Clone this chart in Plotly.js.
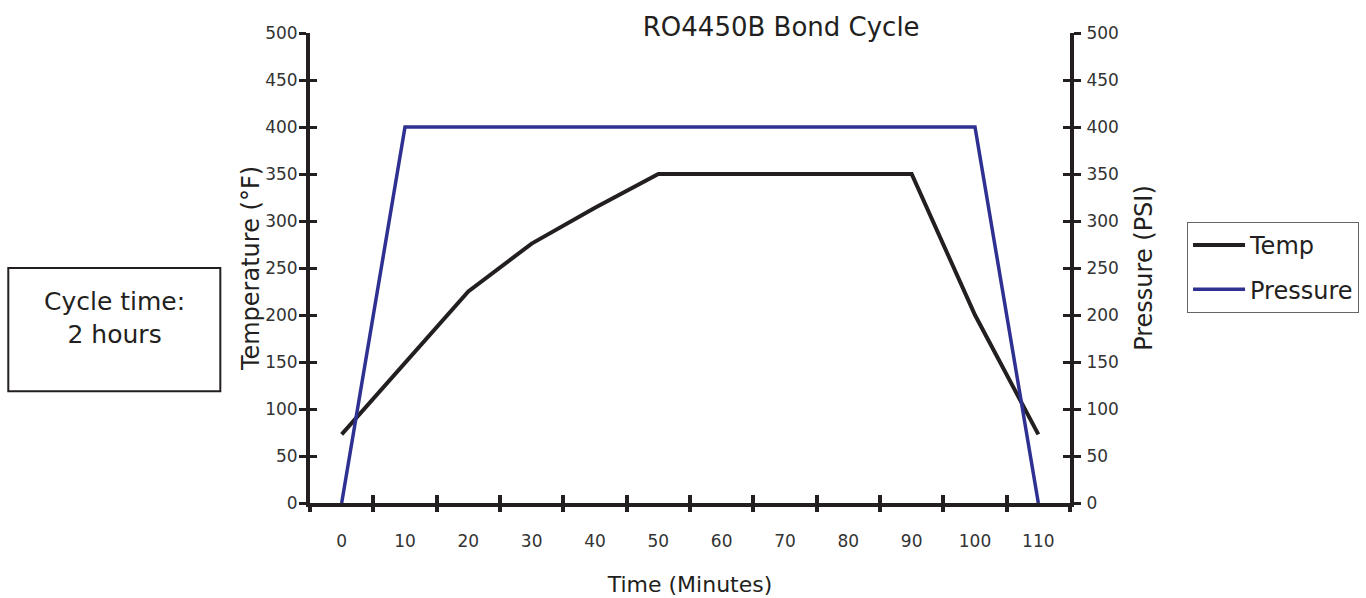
<!DOCTYPE html>
<html>
<head>
<meta charset="utf-8">
<script src="https://cdn.plot.ly/plotly-3.0.1.min.js"></script>
<style>html,body{margin:0;padding:0;background:#fff;}#chart{width:1366px;height:598px;}</style>
</head>
<body>
<div id="chart"></div>
<script>
const timeTemp = [0, 20, 30, 40, 50, 90, 100, 110];
const tempValues = [73, 225, 276, 314, 350, 350, 200, 73];
const timePressure = [0, 10, 100, 110];
const pressureValues = [0, 400, 400, 0];
const xLabelVals = [0, 10, 20, 30, 40, 50, 60, 70, 80, 90, 100, 110];
const xTickMarks = [-5, 5, 15, 25, 35, 45, 55, 65, 75, 85, 95, 105, 115];
const yTickVals = [0, 50, 100, 150, 200, 250, 300, 350, 400, 450, 500];

const FONT = 'DejaVu Sans, sans-serif';
const INK = '#231f20';
const LABEL = '#333';

const traces = [
  {x: timeTemp, y: tempValues, name: 'Temp', type: 'scatter', mode: 'lines', legendgroup: 'a',
   line: {color: INK, width: 4}, xaxis: 'x', yaxis: 'y', cliponaxis: false},
  {x: timePressure, y: pressureValues, name: 'Pressure', type: 'scatter', mode: 'lines', legendgroup: 'b',
   line: {color: '#2e3192', width: 3.5}, xaxis: 'x', yaxis: 'y2', cliponaxis: false}
];

const baseY = {range: [0, 500], tickvals: yTickVals, showgrid: false, zeroline: false,
  fixedrange: true, automargin: false};

const layout = {
  width: 1366, height: 598,
  margin: {l: 310, r: 296, t: 33, b: 95, autoexpand: false},
  paper_bgcolor: '#fff', plot_bgcolor: 'rgba(0,0,0,0)',
  font: {family: FONT, color: INK},
  title: {text: 'RO4450B Bond Cycle', font: {size: 26, color: INK, family: FONT},
          x: 0.62, xref: 'paper', xanchor: 'center', y: 0.955, yref: 'container', yanchor: 'middle'},
  showlegend: true,
  legend: {x: 1.154, xanchor: 'left', y: 0.598, yanchor: 'top',
           bordercolor: '#666', borderwidth: 1, bgcolor: '#fff',
           font: {size: 24, color: INK, family: FONT}, itemwidth: 52,
           tracegroupgap: 10},
  xaxis: {range: [-5, 115], tickvals: xLabelVals, ticktext: xLabelVals.map(String), automargin: false,
          ticks: '', showgrid: false, zeroline: false, showline: true, linecolor: INK, linewidth: 4,
          tickfont: {size: 17, color: LABEL}, ticklabelstandoff: 20,
          title: {text: 'Time (Minutes)', font: {size: 22, color: INK}, standoff: 27}},
  xaxis2: {range: [-5, 115], overlaying: 'x', side: 'bottom', tickvals: xTickMarks,
           ticks: 'outside', ticklen: 8, tickwidth: 4, tickcolor: INK, showticklabels: false,
           showgrid: false, zeroline: false, showline: false, anchor: 'y', automargin: false},
  xaxis3: {range: [-5, 115], overlaying: 'x', side: 'bottom', tickvals: xTickMarks,
           ticks: 'inside', ticklen: 8, tickwidth: 4, tickcolor: INK, showticklabels: false,
           showgrid: false, zeroline: false, showline: false, anchor: 'y', automargin: false},
  yaxis: Object.assign({}, baseY, {side: 'left', showline: true, linecolor: INK, linewidth: 4,
          ticks: 'outside', ticklen: 7, tickwidth: 3, tickcolor: INK,
          tickfont: {size: 17, color: LABEL}, ticklabelstandoff: -2,
          title: {text: 'Temperature (°F)', font: {size: 24, color: INK}, standoff: 0}}),
  yaxis2: Object.assign({}, baseY, {side: 'right', overlaying: 'y', anchor: 'x',
          showline: true, linecolor: INK, linewidth: 4,
          ticks: 'outside', ticklen: 7, tickwidth: 3, tickcolor: INK,
          tickfont: {size: 17, color: LABEL}, ticklabelstandoff: 2,
          title: {text: 'Pressure (PSI)', font: {size: 24, color: INK}, standoff: 18}}),
  yaxis3: Object.assign({}, baseY, {side: 'left', overlaying: 'y', anchor: 'x',
          ticks: 'inside', ticklen: 7, tickwidth: 3, tickcolor: INK, showticklabels: false,
          showline: false}),
  yaxis4: Object.assign({}, baseY, {side: 'right', overlaying: 'y', anchor: 'x',
          ticks: 'inside', ticklen: 7, tickwidth: 3, tickcolor: INK, showticklabels: false,
          showline: false}),
  shapes: [
    {type: 'rect', xref: 'paper', yref: 'paper', x0: -0.397, x1: -0.118, y0: 0.238, y1: 0.5,
     line: {color: INK, width: 2}, fillcolor: 'rgba(0,0,0,0)'}
  ],
  annotations: [
    {xref: 'paper', yref: 'paper', x: -0.2575, y: 0.394, xanchor: 'center', yanchor: 'middle',
     text: 'Cycle time:<br>2 hours', showarrow: false, align: 'center',
     font: {size: 25, color: INK, family: FONT}}
  ]
};

// invisible helper traces so the overlay tick axes are drawn
traces.push({x: [null], y: [null], xaxis: 'x2', yaxis: 'y', showlegend: false, hoverinfo: 'skip', type: 'scatter', mode: 'lines'});
traces.push({x: [null], y: [null], xaxis: 'x3', yaxis: 'y', showlegend: false, hoverinfo: 'skip', type: 'scatter', mode: 'lines'});
traces.push({x: [null], y: [null], xaxis: 'x', yaxis: 'y3', showlegend: false, hoverinfo: 'skip', type: 'scatter', mode: 'lines'});
traces.push({x: [null], y: [null], xaxis: 'x', yaxis: 'y4', showlegend: false, hoverinfo: 'skip', type: 'scatter', mode: 'lines'});

Plotly.newPlot('chart', traces, layout, {displayModeBar: false, staticPlot: true});
</script>
</body>
</html>
